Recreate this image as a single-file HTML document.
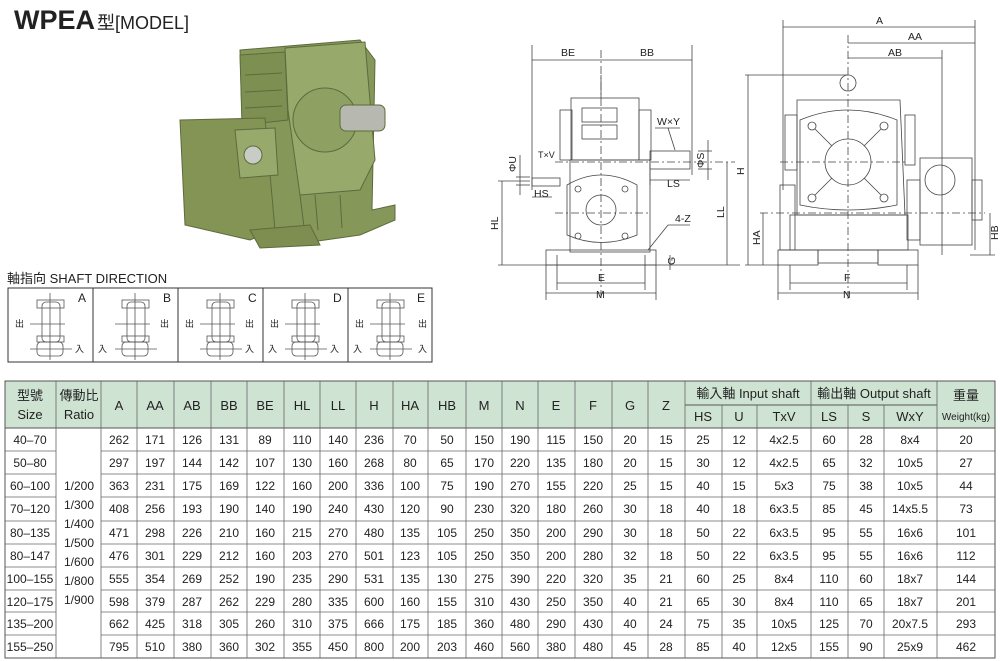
<!DOCTYPE html>
<html><head><meta charset="utf-8"><style>
html,body{margin:0;padding:0;background:#fff;width:1000px;height:661px;overflow:hidden}
svg{display:block}
text{font-family:"Liberation Sans","Noto Sans CJK TC",sans-serif;fill:#222}
</style></head><body>
<svg width="1000" height="661" viewBox="0 0 1000 661" xmlns="http://www.w3.org/2000/svg">
<!-- Title -->
<text x="14" y="29" font-size="27" font-weight="bold" fill="#111">WPEA</text>
<text x="97" y="29" font-size="18">型[MODEL]</text>

<!-- Photo (approximation) -->
<g stroke="#5d6b3c" stroke-width="1">
<polygon points="240,50 360,40 375,60 372,210 395,205 395,220 360,235 290,245 245,220" fill="#86975a"/>
<polygon points="285,48 365,42 375,160 360,190 300,195 288,110" fill="#98a96c"/>
<polygon points="240,55 285,52 288,120 242,125" fill="#7e8f52"/>
<line x1="245" y1="75" x2="282" y2="73"/><line x1="245" y1="92" x2="282" y2="90"/><line x1="245" y1="108" x2="282" y2="106"/>
<circle cx="325" cy="120" r="32" fill="#8fa063"/>
<rect x="340" y="105" width="45" height="26" rx="6" fill="#b7b8b0"/>
<polygon points="180,120 265,118 275,230 250,240 185,225" fill="#839455"/>
<polygon points="235,130 275,128 278,175 240,178" fill="#98a96c"/>
<circle cx="253" cy="155" r="9" fill="#c8ccc4"/>
<line x1="300" y1="195" x2="305" y2="235"/><line x1="315" y1="195" x2="318" y2="230"/><line x1="340" y1="195" x2="342" y2="228"/>
<polygon points="250,230 310,225 320,245 260,248" fill="#7d8e50"/>
</g>

<!-- Left drawing -->
<g fill="none" stroke="#444" stroke-width="0.8">
<rect x="571" y="98" width="68" height="62"/>
<rect x="560" y="110" width="12" height="50"/>
<rect x="639" y="110" width="12" height="50"/>
<rect x="570" y="160" width="80" height="92"/>
<rect x="546" y="250" width="110" height="15"/>
<path d="M567,185 Q601,165 637,185 L637,235 Q601,250 567,235 Z"/>
<circle cx="601" cy="210" r="15"/>
<circle cx="578" cy="189" r="3"/><circle cx="625" cy="189" r="3"/><circle cx="578" cy="236" r="3"/><circle cx="625" cy="236" r="3"/>
<rect x="650" y="151" width="40" height="18"/>
<rect x="532" y="178" width="28" height="8"/>
<line x1="601" y1="75" x2="601" y2="98"/>
<rect x="582" y="108" width="35" height="14"/><rect x="582" y="125" width="35" height="14"/>
<line x1="601" y1="50" x2="601" y2="300" stroke-dasharray="8,3,2,3"/>
<line x1="555" y1="162" x2="735" y2="162" stroke-dasharray="8,3,2,3"/>
<line x1="555" y1="213" x2="650" y2="213" stroke-dasharray="8,3,2,3"/>
<line x1="532" y1="45" x2="532" y2="190"/><line x1="692" y1="45" x2="692" y2="175"/>
<line x1="532" y1="60" x2="692" y2="60"/>
<line x1="498" y1="181" x2="530" y2="181"/><line x1="498" y1="265" x2="740" y2="265"/>
<line x1="502" y1="181" x2="502" y2="265"/>
<line x1="727" y1="162" x2="727" y2="265"/>
<line x1="546" y1="265" x2="546" y2="300"/><line x1="656" y1="265" x2="656" y2="300"/>
<line x1="557" y1="255" x2="557" y2="290"/><line x1="645" y1="255" x2="645" y2="290"/>
<line x1="557" y1="283" x2="645" y2="283"/><line x1="546" y1="293" x2="656" y2="293"/>
<line x1="650" y1="180" x2="690" y2="180"/><line x1="650" y1="170" x2="650" y2="185"/>
<line x1="532" y1="197" x2="552" y2="197"/>
<line x1="698" y1="151" x2="712" y2="151"/><line x1="698" y1="169" x2="712" y2="169"/><line x1="708" y1="140" x2="708" y2="180"/>
<line x1="516" y1="177" x2="530" y2="177"/><line x1="516" y1="185" x2="530" y2="185"/><line x1="520" y1="155" x2="520" y2="195"/>
<line x1="668" y1="225" x2="648" y2="250"/><line x1="668" y1="225" x2="690" y2="225"/>
<line x1="670" y1="255" x2="670" y2="270"/>
<line x1="668" y1="128" x2="675" y2="150"/><line x1="655" y1="128" x2="680" y2="128"/>
</g>
<g font-size="10.5">
<text x="561" y="56">BE</text><text x="640" y="56">BB</text>
<text x="657" y="125">W×Y</text><text x="538" y="158" font-size="9">T×V</text>
<text x="667" y="187">LS</text><text x="534" y="197">HS</text>
<text x="675" y="222">4-Z</text>
<text x="598" y="281">E</text><text x="596" y="298">M</text>
<text transform="translate(498,230) rotate(-90)">HL</text>
<text transform="translate(724,218) rotate(-90)">LL</text>
<text transform="translate(516,172) rotate(-90)">ΦU</text>
<text transform="translate(704,168) rotate(-90)">ΦS</text>
<text transform="translate(675,265) rotate(-90)">G</text>
</g>

<!-- Right drawing -->
<g fill="none" stroke="#444" stroke-width="0.8">
<path d="M797,100 L900,100 L905,215 L797,215 Z"/>
<rect x="785" y="115" width="12" height="55"/><rect x="905" y="115" width="10" height="50"/>
<path d="M800,120 Q848,100 897,120 L897,205 Q848,215 800,205 Z"/>
<circle cx="848" cy="162" r="23"/>
<circle cx="812" cy="126" r="4"/><circle cx="884" cy="126" r="4"/><circle cx="812" cy="198" r="4"/><circle cx="884" cy="198" r="4"/>
<line x1="815" y1="129" x2="832" y2="146"/><line x1="881" y1="129" x2="864" y2="146"/><line x1="815" y1="195" x2="832" y2="178"/><line x1="881" y1="195" x2="864" y2="178"/>
<circle cx="848" cy="83" r="8"/>
<rect x="780" y="185" width="15" height="65"/>
<rect x="790" y="215" width="118" height="35"/>
<rect x="778" y="250" width="40" height="15"/><rect x="878" y="250" width="40" height="15"/>
<rect x="818" y="250" width="60" height="13"/>
<rect x="920" y="158" width="52" height="87"/>
<circle cx="940" cy="180" r="15"/>
<rect x="907" y="180" width="13" height="60"/><rect x="972" y="180" width="10" height="40"/>
<line x1="848" y1="35" x2="848" y2="300" stroke-dasharray="8,3,2,3"/>
<line x1="780" y1="162" x2="905" y2="162" stroke-dasharray="8,3,2,3"/>
<line x1="760" y1="213" x2="985" y2="213" stroke-dasharray="8,3,2,3"/>
<line x1="783" y1="20" x2="783" y2="190"/><line x1="975" y1="20" x2="975" y2="250"/>
<line x1="942" y1="50" x2="942" y2="255"/>
<line x1="783" y1="27" x2="975" y2="27"/><line x1="848" y1="43" x2="975" y2="43"/><line x1="848" y1="58" x2="942" y2="58"/>
<line x1="745" y1="75" x2="848" y2="75"/><line x1="745" y1="265" x2="778" y2="265"/>
<line x1="748" y1="75" x2="748" y2="265"/><line x1="763" y1="213" x2="763" y2="265"/>
<line x1="990" y1="213" x2="990" y2="255"/><line x1="970" y1="255" x2="995" y2="255"/>
<line x1="778" y1="265" x2="778" y2="300"/><line x1="918" y1="265" x2="918" y2="300"/>
<line x1="790" y1="265" x2="790" y2="290"/><line x1="907" y1="265" x2="907" y2="290"/>
<line x1="790" y1="283" x2="907" y2="283"/><line x1="778" y1="293" x2="918" y2="293"/>
</g>
<g font-size="10.5">
<text x="876" y="24">A</text><text x="908" y="40">AA</text><text x="888" y="56">AB</text>
<text transform="translate(744,175) rotate(-90)">H</text>
<text transform="translate(760,245) rotate(-90)">HA</text>
<text transform="translate(998,240) rotate(-90)">HB</text>
<text x="844" y="281">F</text><text x="843" y="298">N</text>
</g>

<!-- Shaft direction -->
<text x="7" y="283" font-size="13">軸指向 SHAFT DIRECTION</text>
<rect x="8" y="288" width="424" height="74" fill="none" stroke="#333" stroke-width="1"/>
<g stroke="#333" stroke-width="1">
<line x1="93" y1="288" x2="93" y2="362"/><line x1="178" y1="288" x2="178" y2="362"/>
<line x1="263" y1="288" x2="263" y2="362"/><line x1="348" y1="288" x2="348" y2="362"/>
</g>
<g font-size="12">
<text x="78" y="302">A</text><text x="163" y="302">B</text><text x="248" y="302">C</text><text x="333" y="302">D</text><text x="417" y="302">E</text>
</g>
<g fill="none" stroke="#555" stroke-width="0.8">
<g id="ic"><rect x="42" y="302" width="18" height="40" rx="4"/><rect x="37" y="300" width="27" height="8"/><rect x="37" y="336" width="27" height="6"/><rect x="37" y="342" width="26" height="14" rx="4"/><line x1="50" y1="293" x2="50" y2="360"/><line x1="30" y1="324" x2="65" y2="324"/><line x1="30" y1="349" x2="72" y2="349"/></g>
<use href="#ic" x="85"/><use href="#ic" x="170"/><use href="#ic" x="255"/><use href="#ic" x="340"/>
</g>
<g font-size="9" fill="#444">
<text x="15" y="327">出</text><text x="75" y="352">入</text>
<text x="160" y="327">出</text><text x="98" y="352">入</text>
<text x="185" y="327">出</text><text x="245" y="327">出</text><text x="245" y="352">入</text>
<text x="270" y="327">出</text><text x="268" y="352">入</text><text x="330" y="352">入</text>
<text x="355" y="327">出</text><text x="418" y="327">出</text><text x="353" y="352">入</text><text x="418" y="352">入</text>
</g>

<!-- Table -->
<rect x="5" y="381" width="990" height="47" fill="#cfe3d3"/>
<rect x="56" y="428" width="45" height="230" fill="#fff"/>
<g stroke="#555" stroke-width="1" fill="none">
<rect x="5" y="381" width="990" height="277"/>
<line x1="5" y1="428" x2="995" y2="428"/>
<line x1="685" y1="405" x2="937" y2="405"/>
</g>
<g stroke="#666" stroke-width="0.8">
<line x1="5" y1="451" x2="56" y2="451"/><line x1="101" y1="451" x2="995" y2="451"/>
<line x1="5" y1="474" x2="56" y2="474"/><line x1="101" y1="474" x2="995" y2="474"/>
<line x1="5" y1="497" x2="56" y2="497"/><line x1="101" y1="497" x2="995" y2="497"/>
<line x1="5" y1="521" x2="56" y2="521"/><line x1="101" y1="521" x2="995" y2="521"/>
<line x1="5" y1="544" x2="56" y2="544"/><line x1="101" y1="544" x2="995" y2="544"/>
<line x1="5" y1="567" x2="56" y2="567"/><line x1="101" y1="567" x2="995" y2="567"/>
<line x1="5" y1="590" x2="56" y2="590"/><line x1="101" y1="590" x2="995" y2="590"/>
<line x1="5" y1="612" x2="56" y2="612"/><line x1="101" y1="612" x2="995" y2="612"/>
<line x1="5" y1="635" x2="56" y2="635"/><line x1="101" y1="635" x2="995" y2="635"/>
</g>
<g stroke="#666" stroke-width="0.8">
<line x1="56" y1="381" x2="56" y2="658"/><line x1="101" y1="381" x2="101" y2="658"/>
<line x1="137" y1="381" x2="137" y2="658"/><line x1="174" y1="381" x2="174" y2="658"/>
<line x1="211" y1="381" x2="211" y2="658"/><line x1="247" y1="381" x2="247" y2="658"/>
<line x1="284" y1="381" x2="284" y2="658"/><line x1="320" y1="381" x2="320" y2="658"/>
<line x1="356" y1="381" x2="356" y2="658"/><line x1="393" y1="381" x2="393" y2="658"/>
<line x1="428" y1="381" x2="428" y2="658"/><line x1="466" y1="381" x2="466" y2="658"/>
<line x1="502" y1="381" x2="502" y2="658"/><line x1="538" y1="381" x2="538" y2="658"/>
<line x1="575" y1="381" x2="575" y2="658"/><line x1="612" y1="381" x2="612" y2="658"/>
<line x1="648" y1="381" x2="648" y2="658"/><line x1="685" y1="381" x2="685" y2="658"/>
<line x1="722" y1="405" x2="722" y2="658"/><line x1="757" y1="405" x2="757" y2="658"/>
<line x1="811" y1="381" x2="811" y2="658"/><line x1="848" y1="405" x2="848" y2="658"/>
<line x1="884" y1="405" x2="884" y2="658"/><line x1="937" y1="381" x2="937" y2="658"/>
</g>
<g font-size="13" text-anchor="middle">
<text x="30" y="400">型號</text><text x="30" y="419">Size</text>
<text x="79" y="400">傳動比</text><text x="79" y="419">Ratio</text>
<text x="119" y="410">A</text><text x="155" y="410">AA</text><text x="192" y="410">AB</text><text x="229" y="410">BB</text><text x="265" y="410">BE</text><text x="302" y="410">HL</text><text x="338" y="410">LL</text><text x="374" y="410">H</text><text x="410" y="410">HA</text><text x="447" y="410">HB</text><text x="484" y="410">M</text><text x="520" y="410">N</text><text x="556" y="410">E</text><text x="593" y="410">F</text><text x="630" y="410">G</text><text x="666" y="410">Z</text>
<text x="748" y="398">輸入軸 Input shaft</text><text x="874" y="398">輸出軸 Output shaft</text>
<text x="703" y="421">HS</text><text x="739" y="421">U</text><text x="784" y="421">TxV</text><text x="829" y="421">LS</text><text x="866" y="421">S</text><text x="910" y="421">WxY</text>
<text x="966" y="400">重量</text><text x="966" y="420" font-size="10">Weight(kg)</text>
</g>
<g font-size="12" text-anchor="middle">
<text x="79" y="490">1/200</text><text x="79" y="509">1/300</text><text x="79" y="528">1/400</text><text x="79" y="547">1/500</text><text x="79" y="566">1/600</text><text x="79" y="585">1/800</text><text x="79" y="604">1/900</text>
</g>
<g font-size="12" text-anchor="middle" id="rows">
<g transform="translate(0,444)"><text x="30">40–70</text><text x="119">262</text><text x="155">171</text><text x="192">126</text><text x="229">131</text><text x="265">89</text><text x="302">110</text><text x="338">140</text><text x="374">236</text><text x="410">70</text><text x="447">50</text><text x="484">150</text><text x="520">190</text><text x="556">115</text><text x="593">150</text><text x="630">20</text><text x="666">15</text><text x="703">25</text><text x="739">12</text><text x="784">4x2.5</text><text x="829">60</text><text x="866">28</text><text x="910">8x4</text><text x="966">20</text></g>
<g transform="translate(0,467)"><text x="30">50–80</text><text x="119">297</text><text x="155">197</text><text x="192">144</text><text x="229">142</text><text x="265">107</text><text x="302">130</text><text x="338">160</text><text x="374">268</text><text x="410">80</text><text x="447">65</text><text x="484">170</text><text x="520">220</text><text x="556">135</text><text x="593">180</text><text x="630">20</text><text x="666">15</text><text x="703">30</text><text x="739">12</text><text x="784">4x2.5</text><text x="829">65</text><text x="866">32</text><text x="910">10x5</text><text x="966">27</text></g>
<g transform="translate(0,490)"><text x="30">60–100</text><text x="119">363</text><text x="155">231</text><text x="192">175</text><text x="229">169</text><text x="265">122</text><text x="302">160</text><text x="338">200</text><text x="374">336</text><text x="410">100</text><text x="447">75</text><text x="484">190</text><text x="520">270</text><text x="556">155</text><text x="593">220</text><text x="630">25</text><text x="666">15</text><text x="703">40</text><text x="739">15</text><text x="784">5x3</text><text x="829">75</text><text x="866">38</text><text x="910">10x5</text><text x="966">44</text></g>
<g transform="translate(0,513)"><text x="30">70–120</text><text x="119">408</text><text x="155">256</text><text x="192">193</text><text x="229">190</text><text x="265">140</text><text x="302">190</text><text x="338">240</text><text x="374">430</text><text x="410">120</text><text x="447">90</text><text x="484">230</text><text x="520">320</text><text x="556">180</text><text x="593">260</text><text x="630">30</text><text x="666">18</text><text x="703">40</text><text x="739">18</text><text x="784">6x3.5</text><text x="829">85</text><text x="866">45</text><text x="910">14x5.5</text><text x="966">73</text></g>
<g transform="translate(0,537)"><text x="30">80–135</text><text x="119">471</text><text x="155">298</text><text x="192">226</text><text x="229">210</text><text x="265">160</text><text x="302">215</text><text x="338">270</text><text x="374">480</text><text x="410">135</text><text x="447">105</text><text x="484">250</text><text x="520">350</text><text x="556">200</text><text x="593">290</text><text x="630">30</text><text x="666">18</text><text x="703">50</text><text x="739">22</text><text x="784">6x3.5</text><text x="829">95</text><text x="866">55</text><text x="910">16x6</text><text x="966">101</text></g>
<g transform="translate(0,560)"><text x="30">80–147</text><text x="119">476</text><text x="155">301</text><text x="192">229</text><text x="229">212</text><text x="265">160</text><text x="302">203</text><text x="338">270</text><text x="374">501</text><text x="410">123</text><text x="447">105</text><text x="484">250</text><text x="520">350</text><text x="556">200</text><text x="593">280</text><text x="630">32</text><text x="666">18</text><text x="703">50</text><text x="739">22</text><text x="784">6x3.5</text><text x="829">95</text><text x="866">55</text><text x="910">16x6</text><text x="966">112</text></g>
<g transform="translate(0,583)"><text x="30">100–155</text><text x="119">555</text><text x="155">354</text><text x="192">269</text><text x="229">252</text><text x="265">190</text><text x="302">235</text><text x="338">290</text><text x="374">531</text><text x="410">135</text><text x="447">130</text><text x="484">275</text><text x="520">390</text><text x="556">220</text><text x="593">320</text><text x="630">35</text><text x="666">21</text><text x="703">60</text><text x="739">25</text><text x="784">8x4</text><text x="829">110</text><text x="866">60</text><text x="910">18x7</text><text x="966">144</text></g>
<g transform="translate(0,606)"><text x="30">120–175</text><text x="119">598</text><text x="155">379</text><text x="192">287</text><text x="229">262</text><text x="265">229</text><text x="302">280</text><text x="338">335</text><text x="374">600</text><text x="410">160</text><text x="447">155</text><text x="484">310</text><text x="520">430</text><text x="556">250</text><text x="593">350</text><text x="630">40</text><text x="666">21</text><text x="703">65</text><text x="739">30</text><text x="784">8x4</text><text x="829">110</text><text x="866">65</text><text x="910">18x7</text><text x="966">201</text></g>
<g transform="translate(0,628)"><text x="30">135–200</text><text x="119">662</text><text x="155">425</text><text x="192">318</text><text x="229">305</text><text x="265">260</text><text x="302">310</text><text x="338">375</text><text x="374">666</text><text x="410">175</text><text x="447">185</text><text x="484">360</text><text x="520">480</text><text x="556">290</text><text x="593">430</text><text x="630">40</text><text x="666">24</text><text x="703">75</text><text x="739">35</text><text x="784">10x5</text><text x="829">125</text><text x="866">70</text><text x="910">20x7.5</text><text x="966">293</text></g>
<g transform="translate(0,651)"><text x="30">155–250</text><text x="119">795</text><text x="155">510</text><text x="192">380</text><text x="229">360</text><text x="265">302</text><text x="302">355</text><text x="338">450</text><text x="374">800</text><text x="410">200</text><text x="447">203</text><text x="484">460</text><text x="520">560</text><text x="556">380</text><text x="593">480</text><text x="630">45</text><text x="666">28</text><text x="703">85</text><text x="739">40</text><text x="784">12x5</text><text x="829">155</text><text x="866">90</text><text x="910">25x9</text><text x="966">462</text></g>
</g>
</svg>
</body></html>
